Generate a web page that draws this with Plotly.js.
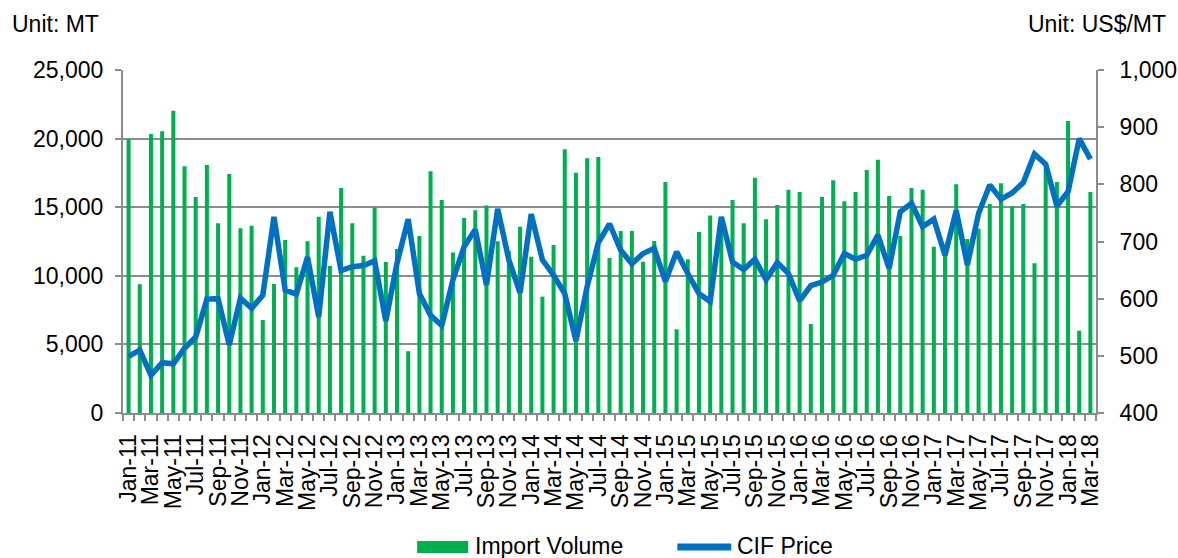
<!DOCTYPE html>
<html>
<head>
<meta charset="utf-8">
<script src="https://cdn.plot.ly/plotly-3.0.1.min.js"></script>
<style>html,body{margin:0;padding:0;background:#fff;}#chart{width:1178px;height:558px;}</style>
</head>
<body>
<div id="chart"></div>
<script>
const months = ["Jan","Feb","Mar","Apr","May","Jun","Jul","Aug","Sep","Oct","Nov","Dec"];
const categories = [];
for (let y = 11; y <= 18; y++) {
  for (let m = 0; m < 12; m++) {
    if (y === 18 && m > 2) break;
    categories.push(months[m] + "-" + y);
  }
}

const importVolume = [
  19950, 9380, 20340, 20530, 22030, 17980, 15740, 18080, 13830, 17420, 13460, 13650,
  6780, 9400, 12610, 10620, 12510, 14310, 10710, 16400, 13830, 11470, 14970, 11000,
  11950, 4500, 12900, 17620, 15520, 11690, 14210, 14770, 15120, 12510, 11800, 13580,
  11390, 8480, 12250, 19220, 17520, 18560, 18660, 11300, 13270, 13270, 11030, 12540,
  16840, 6100, 11200, 13190, 14400, 14000, 15520, 13830, 17150, 14120, 15160, 16280,
  16110, 6490, 15740, 16960, 15430, 16110, 17710, 18460, 15820, 12900, 16400, 16280,
  12120, 11700, 16670, 12680, 13430, 15230, 16740, 15070, 15230, 10910, 17840, 16840,
  21280, 6000, 16110
];

const cifPrice = [
  499, 510, 466, 488, 486, 513, 533, 599, 600, 519, 601, 583,
  606, 743, 615, 608, 673, 568, 752, 649, 656, 658, 666, 561,
  662, 739, 609, 571, 553, 633, 691, 721, 624, 757, 668, 610,
  748, 668, 641, 609, 526, 621, 698, 731, 685, 661, 679, 688,
  630, 682, 644, 609, 595, 743, 664, 651, 669, 633, 663, 644,
  596, 623, 629, 641, 679, 669, 676, 711, 653, 752, 767, 726,
  739, 676, 754, 659, 749, 799, 774, 785, 803, 853, 835, 762,
  787, 880, 844
];

const seriesNames = ["Import Volume", "CIF Price"];
const unitLeft = "Unit: MT";
const unitRight = "Unit: US$/MT";

const xIdx = categories.map((_, i) => i);
const labelIdx = xIdx.filter(i => i % 2 === 0);
const labelText = labelIdx.map(i => categories[i]);
const boundaries = categories.map((_, i) => i - 0.5).concat([categories.length - 0.5]);

const FONT = "Liberation Sans, Arial, sans-serif";
const GRAY = "#8c8c8c";
const GREEN = "#00B050";
const BLUE = "#0070C0";

const traces = [
  {
    type: "bar", name: seriesNames[0], x: xIdx, y: importVolume,
    customdata: categories, marker: {color: GREEN}, yaxis: "y",
    hovertemplate: "%{customdata}: %{y:,}<extra></extra>"
  },
  {
    type: "scatter", mode: "lines", name: seriesNames[1], x: xIdx, y: cifPrice,
    customdata: categories, line: {color: BLUE, width: 5.5}, yaxis: "y2",
    hovertemplate: "%{customdata}: %{y}<extra></extra>"
  }
];

const layout = {
  width: 1178, height: 558,
  margin: {l: 123, r: 82, t: 70, b: 145},
  paper_bgcolor: "#fff", plot_bgcolor: "#fff",
  font: {family: FONT, size: 23, color: "#000"},
  showlegend: false,
  bargap: 0.64,
  xaxis: {
    range: [-0.5, categories.length - 0.5],
    tickmode: "array", tickvals: labelIdx, ticktext: labelText,
    tickangle: -90, ticks: "", ticklabelstandoff: 10,
    showgrid: false, zeroline: false,
    showline: true, linecolor: GRAY, linewidth: 2,
    tickfont: {family: FONT, size: 23, color: "#000"},
    minor: {tickmode: "array", tickvals: boundaries, ticks: "outside", ticklen: 6, tickwidth: 2, tickcolor: GRAY, showgrid: false}
  },
  yaxis: {
    range: [0, 25000], dtick: 5000, tick0: 0, tickformat: ",",
    showgrid: true, gridcolor: GRAY, gridwidth: 2,
    zeroline: false, showline: true, linecolor: GRAY, linewidth: 2,
    ticks: "outside", ticklen: 6, tickwidth: 2, tickcolor: GRAY,
    ticklabelstandoff: 7,
    tickfont: {family: FONT, size: 23, color: "#000"}
  },
  yaxis2: {
    overlaying: "y", side: "right",
    range: [400, 1000], dtick: 100, tick0: 400, tickformat: ",",
    showgrid: false, zeroline: false, showline: true, linecolor: GRAY, linewidth: 2,
    ticks: "outside", ticklen: 6, tickwidth: 2, tickcolor: GRAY,
    ticklabelstandoff: 11,
    tickfont: {family: FONT, size: 23, color: "#000"}
  },
  annotations: [
    {text: unitLeft, xref: "paper", yref: "paper", x: -0.1162, y: 1.134, xanchor: "left", yanchor: "middle", showarrow: false, font: {family: FONT, size: 23, color: "#000"}},
    {text: unitRight, xref: "paper", yref: "paper", x: 1.0735, y: 1.134, xanchor: "right", yanchor: "middle", showarrow: false, font: {family: FONT, size: 23, color: "#000"}},
    {text: seriesNames[0], xref: "paper", yref: "paper", x: 0.3599, y: -0.3880, xanchor: "left", yanchor: "middle", showarrow: false, font: {family: FONT, size: 23, color: "#000"}},
    {text: seriesNames[1], xref: "paper", yref: "paper", x: 0.6293, y: -0.3880, xanchor: "left", yanchor: "middle", showarrow: false, font: {family: FONT, size: 23, color: "#000"}}
  ],
  shapes: [
    {type: "rect", xref: "paper", yref: "paper", x0: 0.3023, x1: 0.3548, y0: -0.4082, y1: -0.3732, fillcolor: GREEN, line: {width: 0}},
    {type: "line", xref: "paper", yref: "paper", x0: 0.5697, x1: 0.6252, y0: -0.3907, y1: -0.3907, line: {color: BLUE, width: 7}}
  ]
};

Plotly.newPlot("chart", traces, layout, {displayModeBar: false, responsive: false});
</script>
</body>
</html>
